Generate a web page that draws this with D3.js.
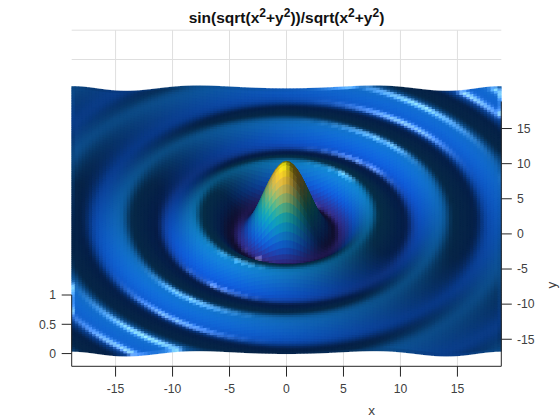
<!DOCTYPE html>
<html><head><meta charset="utf-8">
<script src="https://cdn.jsdelivr.net/npm/d3@7"></script>
<style>html,body{margin:0;padding:0;background:#fff}svg{display:block}
text{font-family:"Liberation Sans",Arial,sans-serif;fill:#404040}</style></head>
<body><svg id="c" width="560" height="420"></svg>
<script>
const xTicks=[-15,-10,-5,0,5,10,15];
const yTicks=[-15,-10,-5,0,5,10,15];
const zTicks=[0,0.5,1];
const limit=18.85, zMin=-0.2172, zMax=1;
// height of the surface read by distance from the centre, every 0.5 units
const radialStep=0.5;
const radialHeights=[1,.9589,.8415,.6650,.4546,.2394,.0470,-.1002,-.1892,-.2172,-.1918,-.1282,-.0466,.0331,.0939,.1251,.1237,.0939,.0458,-.0079,-.0544,-.0840,-.0909,-.0762,-.0447,-.0053,.0323,.0593,.0707,.0644,.0433,.0135,-.0180,-.0433,-.0566,-.0552,-.0417,-.0184,.0079,.0311,.0456,.0484,.0399,.0216,-.0004,-.0217,-.0369,-.0419,-.0377,-.0243,-.0053,.0150,.0305,.0385,.0353];
const paletteStops=["#352A87","#0F5CDD","#1481D6","#06A4CA","#2EB7A4","#87BF77","#D1BB59","#FEC832","#F9FB0E"];
const gridCount=125;
const light=[-0.58,-0.66,0.38], view=[0.25,0.2,0.95];
const ambient=.33,diffuse=.7,specular=.95,shininess=150,zFactor=20;

const x=d3.scaleLinear().domain([-limit,limit]).range([71.7,501.3]);
const y=d3.scaleLinear().domain([-limit,limit]).range([366.3,101.5]);
const z=d3.scaleLinear().domain([zMin,zMax]).range([0,-71.3]);
const colour=d3.scaleLinear().domain(paletteStops.map((_,i)=>zMin+(zMax-zMin)*i/8)).range(paletteStops).interpolate(d3.interpolateRgb).clamp(true);
const svg=d3.select("#c");

function height(r){
  const t=r/radialStep,i=Math.floor(t),f=t-i;
  const g=k=>radialHeights[Math.abs(Math.min(k,radialHeights.length-1))];
  const p0=g(i-1),p1=g(i),p2=g(i+1),p3=g(i+2);
  return .5*((2*p1)+(-p0+p2)*f+(2*p0-5*p1+4*p2-p3)*f*f+(-p0+3*p1-3*p2+p3)*f*f*f);
}
const norm=v=>{const l=Math.hypot(...v);return v.map(a=>a/l)};
const L=norm(light),V=norm(view),H=norm(L.map((a,i)=>a+V[i]));
const dot=(a,b)=>a[0]*b[0]+a[1]*b[1]+a[2]*b[2];
const coords=d3.range(gridCount).map(i=>-limit+2*limit*i/(gridCount-1));
const h=coords.map(b=>coords.map(a=>height(Math.hypot(a,b))));
const d=coords[1]-coords[0];
const shade=coords.map((b,j)=>coords.map((a,i)=>{
  const hx=(h[j][Math.min(i+1,gridCount-1)]-h[j][Math.max(i-1,0)])/(2*d);
  const hy=(h[Math.min(j+1,gridCount-1)][i]-h[Math.max(j-1,0)][i])/(2*d);
  let n=norm([-zFactor*hx,-zFactor*hy,1]);
  const c=d3.rgb(colour(h[j][i]));
  const dl=Math.max(dot(n,L),0),sp=Math.pow(Math.max(dot(n,H),0),shininess);
  const m=ambient+diffuse*dl,s=specular*sp*255;
  return [c.r*m+s,c.g*m+s,c.b*m+s];
}));
const cells=[];
for(let j=gridCount-2;j>=0;j--)for(let i=0;i<gridCount-1;i++)cells.push({i,j});

// grid behind the surface
const grid=svg.append("g").attr("stroke","#dfdfdf").attr("fill","none").attr("stroke-width",1);
grid.selectAll(".v").data(xTicks).join("line").attr("x1",d=>x(d)).attr("x2",d=>x(d)).attr("y1",y(limit)+z(zMax)).attr("y2",y(-limit));
grid.selectAll(".h").data(zTicks.filter(v=>v>0)).join("line").attr("x1",x(-limit)).attr("x2",x(limit)).attr("y1",d=>y(limit)+z(d)).attr("y2",d=>y(limit)+z(d));

const surf=svg.append("g").attr("stroke-width",.8).attr("stroke-linejoin","round").attr("shape-rendering","crispEdges").style("filter","blur(0.7px)");
surf.selectAll("path").data(cells).join("path").each(function(c){
  const {i,j}=c,pts=[[i,j],[i+1,j],[i+1,j+1],[i,j+1]];
  const p=pts.map(([a,b])=>[x(coords[a]),y(coords[b])+z(h[b][a])]);
  const col=[0,1,2].map(k=>d3.mean(pts,([a,b])=>shade[b][a][k]));
  const s=d3.rgb(col[0],col[1],col[2]).clamp().formatHex();
  d3.select(this).attr("d","M"+p.join("L")+"Z").attr("fill",s).attr("stroke",s);
});

// axes
const ink="#262626";
const ax=svg.append("g").attr("stroke",ink).attr("stroke-width",1).attr("fill","none");
ax.append("line").attr("x1",x(-limit)).attr("x2",x(limit)).attr("y1",y(-limit)).attr("y2",y(-limit));
ax.append("line").attr("x1",x(limit)).attr("x2",x(limit)).attr("y1",y(-limit)).attr("y2",y(limit));
ax.append("line").attr("x1",x(-limit)).attr("x2",x(-limit)).attr("y1",y(-limit)).attr("y2",y(-limit)+z(zMax));
ax.selectAll(".tx").data(xTicks).join("line").attr("x1",d=>x(d)).attr("x2",d=>x(d)).attr("y1",y(-limit)).attr("y2",y(-limit)+10.3);
ax.selectAll(".ty").data(yTicks).join("line").attr("x1",x(limit)).attr("x2",x(limit)+10.5).attr("y1",d=>y(d)).attr("y2",d=>y(d));
ax.selectAll(".tz").data(zTicks).join("line").attr("x1",x(-limit)).attr("x2",x(-limit)-10).attr("y1",d=>y(-limit)+z(d)).attr("y2",d=>y(-limit)+z(d));

const fmt=d=>d<0?"-"+Math.abs(d):""+d;
const lab=svg.append("g").attr("font-size",12.2);
lab.selectAll(".lx").data(xTicks).join("text").attr("x",d=>x(d)).attr("y",393).attr("text-anchor","middle").text(fmt);
lab.selectAll(".ly").data(yTicks).join("text").attr("x",517).attr("y",d=>y(d)+4.3).text(fmt);
lab.selectAll(".lz").data(zTicks).join("text").attr("x",56).attr("y",d=>y(-limit)+z(d)+4.3).attr("text-anchor","end").text(fmt);
svg.append("text").attr("x",371.5).attr("y",415).attr("text-anchor","middle").attr("font-size",13.5).text("x");
svg.append("text").attr("transform","translate(556,285) rotate(-90)").attr("text-anchor","middle").attr("font-size",13.5).text("y");
const t=svg.append("text").attr("x",286.5).attr("y",22.5).attr("text-anchor","middle").attr("font-size",15.5).attr("font-weight","bold").style("fill","#111");
const parts=[["sin(sqrt(x",0],["2",1],["+y",0],["2",1],["))/sqrt(x",0],["2",1],["+y",0],["2",1],[")",0]];
let prev=0;
parts.forEach(([s,u])=>{const ts=t.append("tspan").text(s).attr("dy",(u?-6:0)-prev);if(u)ts.attr("font-size",12);prev=u?-6:0;});
</script></body></html>
